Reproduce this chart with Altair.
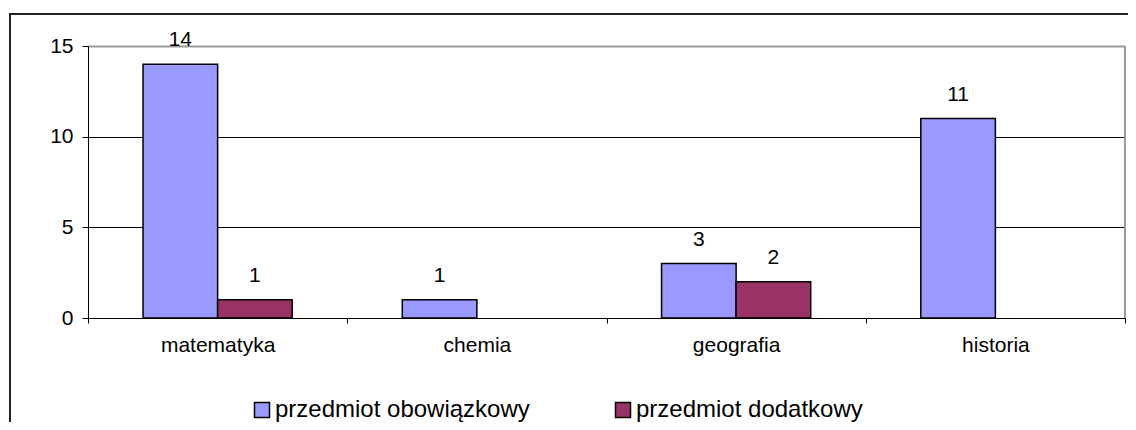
import altair as alt
import pandas as pd

categories = ["matematyka", "chemia", "geografia", "historia"]
series = ["przedmiot obowiązkowy", "przedmiot dodatkowy"]
obowiazkowy = [14, 1, 3, 11]
dodatkowy = [1, None, 2, None]
colors = ["#9999FF", "#993366"]
y_ticks = [0, 5, 10, 15]

rows = []
for name, vals in zip(series, [obowiazkowy, dodatkowy]):
    for c, v in zip(categories, vals):
        if v is not None:
            rows.append({"przedmiot": c, "typ": name, "liczba": v})
df = pd.DataFrame(rows)

FONT = "Liberation Sans"
W, H = 1037, 272

x = alt.X(
    "przedmiot:N", sort=categories,
    scale=alt.Scale(paddingInner=0, paddingOuter=0),
    axis=alt.Axis(title=None, labelAngle=0, tickBand="extent", ticks=True,
                  tickSize=5, tickColor="black", domainColor="black",
                  labelFontSize=21, labelPadding=11, labelColor="black",
                  labelFont=FONT),
)
xo = alt.XOffset("typ:N", sort=series,
                 scale=alt.Scale(domain=series, paddingInner=0, paddingOuter=0.738))
y = alt.Y(
    "liczba:Q", scale=alt.Scale(domain=[0, 15]),
    axis=alt.Axis(values=y_ticks, title=None, grid=True,
                  gridColor={"condition": {"test": "datum.value === 15", "value": "#9a9a9a"}, "value": "black"},
                  gridWidth={"condition": {"test": "datum.value === 15", "value": 2}, "value": 1},
                  tickSize=6, tickColor="black", domainColor="black",
                  labelFontSize=21, labelPadding=9, labelColor="black", labelFont=FONT),
)
color = alt.Color(
    "typ:N", sort=series,
    scale=alt.Scale(domain=series, range=colors),
    legend=alt.Legend(title=None, orient="none", legendX=162, legendY=352,
                      direction="horizontal", symbolType="square", symbolSize=225,
                      symbolStrokeColor="black", symbolStrokeWidth=1.5,
                      labelFontSize=24, labelOffset=1, columnPadding=81,
                      labelLimit=500, labelFont=FONT, labelColor="black"),
)

base = alt.Chart(df).encode(x=x, xOffset=xo, y=y)
bars = base.mark_bar(stroke="black", strokeWidth=1.5).encode(color=color)
labels = base.mark_text(dy=-18, baseline="alphabetic", fontSize=21, font=FONT,
                        color="black").encode(text="liczba:Q")

deco = alt.Chart(pd.DataFrame({"a": [0]}))
frame = deco.mark_rect(fillOpacity=0, stroke="#222222", strokeWidth=2).encode(
    x=alt.value(-78), x2=alt.value(1070), y=alt.value(-32), y2=alt.value(420))
right_border = deco.mark_rule(color="#9a9a9a", strokeWidth=2).encode(
    x=alt.value(W), y=alt.value(0), y2=alt.value(H))

chart = alt.layer(frame, right_border, bars, labels).properties(
    width=W, height=H,
    autosize="none",
    padding={"left": 80, "top": 38, "right": 3, "bottom": 104},
).configure_view(stroke="#9a9a9a", strokeWidth=2).configure(font=FONT)

chart.save("out.html", embed_options={"renderer": "svg", "actions": False})
